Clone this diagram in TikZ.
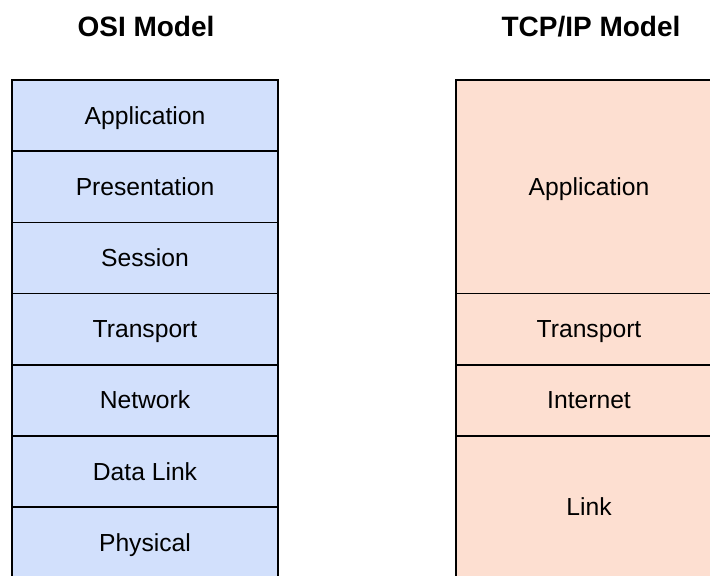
\documentclass[tikz,border=0pt]{standalone}
\usepackage{fontspec}
\setmainfont{Liberation Sans}
\definecolor{osiblue}{HTML}{D2E0FC}
\definecolor{tcppeach}{HTML}{FDDFD1}
\begin{document}
\begin{tikzpicture}[x=0.75pt,y=-0.75pt,
  layer/.style={draw=black, line width=1.2pt, minimum width=199.5pt, inner sep=0pt,
    text height=13pt, text depth=0pt,
    font=\fontsize{18.5}{22}\selectfont, text=black},
  osi/.style={layer, fill=osiblue, minimum height=53.4pt},
  tcp/.style={layer, fill=tcppeach},
  title/.style={font=\fontsize{21}{25}\selectfont\bfseries, anchor=base, inner sep=0pt}]
\useasboundingbox (0,0) rectangle (710,575);
\clip (0,0) rectangle (710,575);
\node[title] (osititle) at (146,36) {OSI Model};
\node[title] (tcptitle) at (591,36) {TCP/IP Model};
% OSI layers
\node[osi] (app) at (145,115.6) {Application};
\node[osi] (pres) at (145,186.8) {Presentation};
\node[osi] (sess) at (145,257.9) {Session};
\node[osi] (trans) at (145,329.1) {Transport};
\node[osi] (net) at (145,400.3) {Network};
\node[osi] (dl) at (145,471.4) {Data Link};
\node[osi] (phys) at (145,542.6) {Physical};
% TCP/IP layers
\node[tcp, minimum height=160.1pt] (tapp) at (589,186.75) {Application};
\node[tcp, minimum height=53.4pt] (ttrans) at (589,329.1) {Transport};
\node[tcp, minimum height=53.4pt] (tnet) at (589,400.3) {Internet};
\node[tcp, minimum height=106.75pt] (tlink) at (589,507.2) {Link};
\end{tikzpicture}
\end{document}
